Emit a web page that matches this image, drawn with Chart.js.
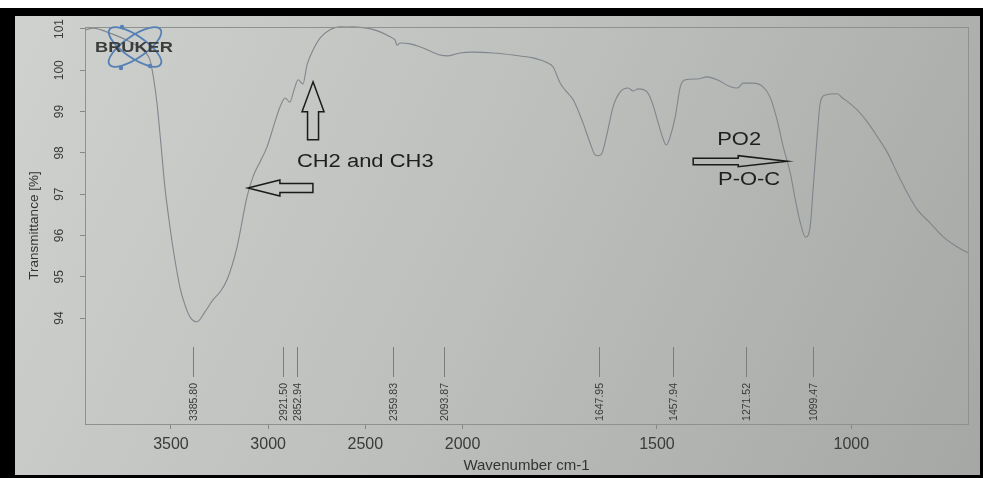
<!DOCTYPE html>
<html><head><meta charset="utf-8">
<script src="https://cdn.jsdelivr.net/npm/chart.js@4.4.1/dist/chart.umd.min.js"></script>
<style>html,body{margin:0;padding:0;background:#b8bbb7;overflow:hidden}canvas{display:block}</style>
</head><body>
<canvas id="c" width="983" height="478"></canvas>
<script>
// ---- data ----
const wavenumbers = [3940,3901,3814,3711,3634,3608,3588,3572,3551,3531,3510,3490,3454,3428,3402,3366,3325,3284,3248,3212,3160,3109,3078,3042,3006,2965,2939,2913,2888,2867,2846,2821,2800,2769,2733,2682,2630,2563,2491,2424,2373,2347,2337,2321,2270,2203,2116,2074,2013,1973,1921,1870,1819,1800,1782,1767,1749,1736,1715,1690,1672,1659,1651,1641,1628,1613,1595,1574,1561,1548,1525,1512,1499,1486,1476,1466,1453,1440,1427,1396,1371,1345,1311,1293,1278,1252,1227,1209,1191,1175,1157,1144,1131,1118,1106,1098,1088,1080,1067,1036,1023,1008,985,959,933,907,882,856,830,797,763,727,700];
const transmittance = [100.98,101.02,100.90,100.69,100.44,100.25,99.77,99.21,98.19,97.17,96.38,95.72,94.75,94.32,94.03,93.91,94.15,94.44,94.63,94.92,95.72,96.93,97.42,97.78,98.14,98.75,99.11,99.33,99.23,99.52,99.77,99.67,100.13,100.49,100.78,100.98,101.05,101.05,101.02,100.93,100.81,100.73,100.61,100.66,100.64,100.54,100.37,100.35,100.42,100.44,100.42,100.37,100.30,100.25,100.18,100.08,99.69,99.52,99.28,98.72,98.24,97.95,97.93,98.00,98.48,99.11,99.47,99.57,99.50,99.55,99.47,99.21,98.80,98.39,98.19,98.39,98.87,99.60,99.77,99.79,99.84,99.77,99.60,99.57,99.69,99.69,99.60,99.35,98.80,98.14,97.51,96.86,96.30,95.96,96.21,97.17,98.39,99.21,99.40,99.43,99.33,99.23,99.04,98.75,98.39,98.00,97.51,97.03,96.62,96.30,95.96,95.72,95.58];
const xTicks = [3500, 3000, 2500, 2000, 1500, 1000];
const yTicks = [94, 95, 96, 97, 98, 99, 100, 101];
const peakPositions = [3385.80, 2921.50, 2852.94, 2359.83, 2093.87, 1647.95, 1457.94, 1271.52, 1099.47];
const xTitle = 'Wavenumber cm-1';
const yTitle = 'Transmittance [%]';
const textNotes = [
  {text: 'CH2 and CH3', wn: 2852, t: 97.78},
  {text: 'PO2', wn: 1345, t: 98.31},
  {text: 'P-O-C', wn: 1343, t: 97.34}
];
const arrowNotes = [
  {dir: 'up', wn: 2769, t: 99.72},
  {dir: 'left', wn: 3104, t: 97.15},
  {dir: 'right', wn: 1165, t: 97.80}
];
const xRange = [700, 3942];
const yRange = [91.435, 101.048];

// ---- Bruker style split wavenumber axis (scale halves above 2000 cm-1) ----
const warp = v => v <= 2000 ? v : 2000 + (v - 2000) / 2;
const unwarp = u => u <= 2000 ? u : 2000 + (u - 2000) * 2;
class SplitScale extends Chart.LinearScale {
  getPixelForValue(value) {
    const a = warp(this.min), b = warp(this.max);
    return this.getPixelForDecimal((warp(value) - a) / (b - a));
  }
  getValueForPixel(pixel) {
    const a = warp(this.min), b = warp(this.max);
    return unwarp(a + this.getDecimalForPixel(pixel) * (b - a));
  }
}
SplitScale.id = 'split';
SplitScale.defaults = Chart.LinearScale.defaults;
Chart.register(SplitScale);

const FONT = '"Liberation Sans", Arial, sans-serif';

const paperPlugin = {
  id: 'paper',
  beforeDraw(chart) {
    const ctx = chart.ctx, W = chart.width, H = chart.height;
    ctx.save();
    const g = ctx.createLinearGradient(0, 0, W, H);
    g.addColorStop(0, '#cfd2ce');
    g.addColorStop(0.5, '#bcbfbb');
    g.addColorStop(1, '#a4a7a3');
    ctx.fillStyle = g;
    ctx.fillRect(0, 0, W, H);
    ctx.restore();
  },
  afterDraw(chart) {
    const ctx = chart.ctx, a = chart.chartArea, W = chart.width, H = chart.height;
    const xs = chart.scales.x, ys = chart.scales.y;
    ctx.save();
    // plot frame
    ctx.strokeStyle = '#8e918d';
    ctx.lineWidth = 1;
    ctx.strokeRect(Math.round(a.left) + 0.5, Math.round(a.top) + 0.5, Math.round(a.right - a.left), Math.round(a.bottom - a.top));

    // peak markers
    ctx.strokeStyle = '#7a7d79';
    ctx.fillStyle = '#3a3a3a';
    ctx.font = '10.5px ' + FONT;
    peakPositions.forEach(p => {
      const x = Math.round(xs.getPixelForValue(p)) + 0.5;
      ctx.beginPath();
      ctx.moveTo(x, a.bottom - 77);
      ctx.lineTo(x, a.bottom - 47);
      ctx.stroke();
      ctx.save();
      ctx.translate(x + 1, a.bottom - 41);
      ctx.rotate(-Math.PI / 2);
      ctx.textAlign = 'right';
      ctx.textBaseline = 'middle';
      ctx.fillText(p.toFixed(2), 0, 0);
      ctx.restore();
    });

    // notes
    ctx.fillStyle = '#1e1e1e';
    ctx.font = '18px ' + FONT;
    ctx.textBaseline = 'middle';
    ctx.textAlign = 'left';
    textNotes.forEach(n => {
      ctx.save();
      ctx.translate(xs.getPixelForValue(n.wn), ys.getPixelForValue(n.t));
      ctx.scale(1.22, 1);
      ctx.fillText(n.text, 0, 0);
      ctx.restore();
    });

    // hollow arrows
    ctx.strokeStyle = '#1a1a1a';
    ctx.lineWidth = 1.5;
    ctx.lineJoin = 'miter';
    arrowNotes.forEach(n => {
      const x = xs.getPixelForValue(n.wn), y = ys.getPixelForValue(n.t);
      let pts;
      if (n.dir === 'up') {
        pts = [[0,0],[11,30],[5.5,30],[5.5,58],[-5.5,58],[-5.5,30],[-11,30]];
      } else if (n.dir === 'left') {
        pts = [[0,0],[32,-8],[32,-4.5],[65,-4.5],[65,4.5],[32,4.5],[32,8]];
      } else {
        pts = [[0,0],[-49,-5.5],[-49,-3],[-94,-3],[-94,3.5],[-49,3.5],[-49,5.5]];
      }
      ctx.beginPath();
      pts.forEach((p, i) => i ? ctx.lineTo(x + p[0], y + p[1]) : ctx.moveTo(x + p[0], y + p[1]));
      ctx.closePath();
      ctx.stroke();
    });

    // Bruker logo
    ctx.save();
    ctx.strokeStyle = '#5580b5';
    ctx.fillStyle = '#5580b5';
    ctx.lineWidth = 1.8;
    [0.6, -0.6].forEach(r => {
      ctx.beginPath();
      ctx.ellipse(135, 47, 31, 11, r, 0, Math.PI * 2);
      ctx.stroke();
    });
    [[122, 27], [121, 68], [150, 66]].forEach(p => {
      ctx.beginPath(); ctx.arc(p[0], p[1], 2.2, 0, Math.PI * 2); ctx.fill();
    });
    ctx.restore();
    ctx.save();
    ctx.fillStyle = '#3b3d3c';
    ctx.font = 'bold 14px ' + FONT;
    ctx.textBaseline = 'middle';
    ctx.translate(95, 48);
    ctx.scale(1.3, 1);
    ctx.fillText('BRUKER', 0, 0);
    ctx.restore();

    // photo border
    ctx.fillStyle = '#ffffff';
    ctx.fillRect(0, 0, W, 8);
    ctx.fillStyle = '#000';
    ctx.fillRect(0, 8, W, 8);
    ctx.fillRect(0, 8, 15, H);
    ctx.fillRect(0, H - 3, W, 3);
    ctx.fillRect(W - 3, 8, 3, H);
    ctx.restore();
  }
};

const points = wavenumbers.map((w, i) => ({x: w, y: transmittance[i]}));

new Chart(document.getElementById('c'), {
  type: 'line',
  data: {
    datasets: [{
      data: points,
      borderColor: 'rgba(125,131,138,0.95)',
      borderWidth: 1.1,
      pointRadius: 0,
      cubicInterpolationMode: 'monotone',
      fill: false,
      clip: false
    }]
  },
  options: {
    responsive: false,
    devicePixelRatio: 1,
    animation: false,
    events: [],
    layout: {padding: {top: 27, right: 15, left: 0, bottom: 0}},
    plugins: {legend: {display: false}, tooltip: {enabled: false}},
    scales: {
      x: {
        type: 'split',
        reverse: true,
        min: xRange[0],
        max: xRange[1],
        afterBuildTicks: s => { s.ticks = xTicks.map(v => ({value: v})); },
        afterFit: s => { s.height = 54; },
        grid: {drawOnChartArea: false, drawTicks: true, tickLength: 5, color: '#858884'},
        border: {display: false},
        ticks: {
          callback: v => String(v),
          color: '#3a3a3a',
          font: {family: FONT, size: 16},
          padding: 6,
          maxRotation: 0,
          autoSkip: false
        },
        title: {
          display: true, text: xTitle, color: '#333',
          font: {family: FONT, size: 15},
          padding: {top: 0, bottom: 3}
        }
      },
      y: {
        min: yRange[0],
        max: yRange[1],
        afterBuildTicks: s => { s.ticks = yTicks.map(v => ({value: v})); },
        afterFit: s => { s.width = 85; },
        grid: {drawOnChartArea: false, drawTicks: true, tickLength: 5, color: '#858884'},
        border: {display: false},
        ticks: {
          callback: v => String(v),
          color: '#3a3a3a',
          font: {family: FONT, size: 12},
          minRotation: 90,
          maxRotation: 90,
          crossAlign: 'center',
          padding: 10,
          autoSkip: false
        },
        title: {
          display: true, text: yTitle, color: '#333',
          font: {family: FONT, size: 13.5},
          padding: {top: 26, bottom: 0}
        }
      }
    }
  },
  plugins: [paperPlugin]
});
</script>
</body></html>
